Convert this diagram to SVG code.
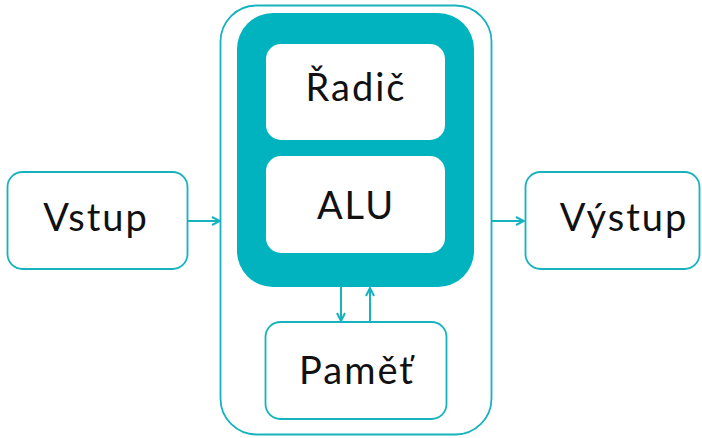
<svg xmlns="http://www.w3.org/2000/svg" width="702" height="438" viewBox="0 0 702 438">
  <style>
    .box { fill: #ffffff; stroke: #16b3bf; stroke-width: 1.8; }
    .inner { fill: #ffffff; stroke: none; }
    .label { font-family: Lato, "Open Sans", "Liberation Sans", sans-serif; font-size: 38px; fill: #111111; text-anchor: middle; letter-spacing: 2px; }
    .conn { stroke: #16b3bf; stroke-width: 2; fill: none; }
  </style>
  <defs>
    <marker id="arrow" viewBox="0 0 10 10" refX="9" refY="5" markerWidth="10" markerHeight="10" markerUnits="userSpaceOnUse" orient="auto">
      <path d="M1,1 L9,5 L1,9" fill="none" stroke="#16b3bf" stroke-width="2"/>
    </marker>
  </defs>

  <rect width="702" height="438" fill="#ffffff"/>

  <g id="computer">
    <rect class="box" x="220.5" y="5.5" width="271" height="429" rx="36"/>
  </g>

  <g id="cpu">
    <rect x="237" y="13" width="237" height="274" rx="36" fill="#00b3be"/>
  </g>

  <g id="radic">
    <rect class="inner" x="266" y="44" width="179" height="96" rx="15"/>
    <text class="label" x="356" y="101">Řadič</text>
  </g>

  <g id="alu">
    <rect class="inner" x="266" y="156" width="179" height="97" rx="15"/>
    <text class="label" x="356" y="219">ALU</text>
  </g>

  <g id="pamet">
    <rect class="box" x="265.5" y="322" width="181" height="97" rx="15"/>
    <text class="label" x="357" y="384">Paměť</text>
  </g>

  <g id="vstup">
    <rect class="box" x="7.5" y="172" width="180" height="97" rx="15"/>
    <text class="label" x="96" y="231">Vstup</text>
  </g>

  <g id="vystup">
    <rect class="box" x="525.5" y="172" width="174" height="97" rx="15"/>
    <text class="label" x="624" y="231">Výstup</text>
  </g>

  <g id="connectors">
    <line class="conn" x1="188" y1="221" x2="220" y2="221" marker-end="url(#arrow)"/>
    <line class="conn" x1="492" y1="221" x2="524" y2="221" marker-end="url(#arrow)"/>
    <line class="conn" x1="341" y1="287" x2="341" y2="321" marker-end="url(#arrow)"/>
    <line class="conn" x1="370" y1="322" x2="370" y2="288" marker-end="url(#arrow)"/>
  </g>
</svg>
